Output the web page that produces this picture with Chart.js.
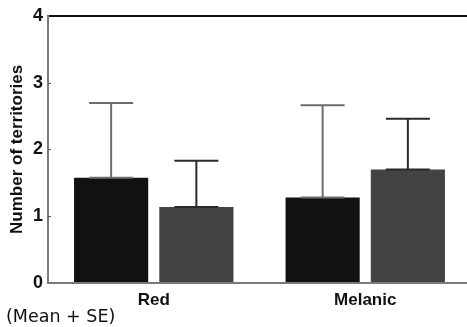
<!DOCTYPE html>
<html>
<head>
<meta charset="utf-8">
<script src="https://cdn.jsdelivr.net/npm/chart.js@4"></script>
<style>
  html, body { margin: 0; padding: 0; background: #fff; overflow: hidden; width: 467px; height: 327px; }
  #wrap { position: absolute; left: 0; top: 0; width: 471px; height: 327px; }
  #note { position: absolute; left: 6px; top: 306px; font-family: "Comic Sans MS", "DejaVu Sans", sans-serif; font-size: 17.5px; line-height: 20px; color: #111; white-space: nowrap; }
</style>
</head>
<body>
<div id="wrap"><canvas id="c"></canvas></div>
<div id="note">(Mean + SE)</div>
<script>
const categories = ['Red', 'Melanic'];
const meanA = [1.576, 1.279];
const seA = [1.12, 1.383];
const meanB = [1.139, 1.70];
const seB = [0.69, 0.758];
const yTicks = [0, 1, 2, 3, 4];

const errorBars = {
  id: 'errorBars',
  afterDatasetsDraw(chart) {
    const ctx = chart.ctx;
    const y = chart.scales.y;
    chart.data.datasets.forEach((ds, di) => {
      const meta = chart.getDatasetMeta(di);
      meta.data.forEach((bar, i) => {
        const m = ds.data[i];
        const e = ds.se[i];
        const x = bar.x;
        const y0 = y.getPixelForValue(m);
        const y1 = y.getPixelForValue(m + e);
        ctx.save();
        ctx.strokeStyle = ds.errColor;
        ctx.lineWidth = 2;
        ctx.beginPath();
        ctx.moveTo(x, y0); ctx.lineTo(x, y1);
        ctx.moveTo(x - 22, y1); ctx.lineTo(x + 22, y1);
        ctx.moveTo(x - 22, y0); ctx.lineTo(x + 22, y0);
        ctx.stroke();
        ctx.restore();
      });
    });
    // small inner tick marks on the y axis
    const left = chart.chartArea.left;
    ctx.save();
    ctx.strokeStyle = '#555';
    ctx.lineWidth = 1;
    ctx.beginPath();
    yTicks.forEach(v => {
      if (v === 0 || v === 4) return;
      const py = Math.round(y.getPixelForValue(v)) + 0.5;
      ctx.moveTo(left, py); ctx.lineTo(left + 3, py);
    });
    ctx.stroke();
    ctx.restore();
  }
};

new Chart(document.getElementById('c'), {
  type: 'bar',
  data: {
    labels: categories,
    datasets: [
      { data: meanA, se: seA, backgroundColor: '#111111', errColor: '#6e6e6e', barPercentage: 0.87, categoryPercentage: 0.806 },
      { data: meanB, se: seB, backgroundColor: '#434343', errColor: '#2a2a2a', barPercentage: 0.87, categoryPercentage: 0.806 }
    ]
  },
  options: {
    responsive: true,
    maintainAspectRatio: false,
    animation: false,
    layout: { padding: { top: 14, right: 0, bottom: 0, left: 0 } },
    plugins: { legend: { display: false }, tooltip: { enabled: false } },
    scales: {
      x: {
        grid: { display: false, drawTicks: false },
        border: { color: '#7a7a7a', width: 2 },
        ticks: { color: '#111', padding: 7, font: { family: 'Liberation Sans, Arial, sans-serif', size: 17, weight: 'bold' } },
        afterFit(s) { s.height = 44; }
      },
      y: {
        min: 0, max: 4,
        afterBuildTicks(s) { s.ticks = yTicks.map(v => ({ value: v })); },
        grid: {
          drawTicks: false,
          color: (c) => (c.tick && c.tick.value === 4) ? '#111' : 'rgba(0,0,0,0)',
          lineWidth: 2
        },
        border: { color: '#7a7a7a', width: 2 },
        ticks: { color: '#111', padding: 5, font: { family: 'Liberation Sans, Arial, sans-serif', size: 18, weight: 'bold' } },
        title: { display: true, text: 'Number of territories', color: '#111', padding: { top: 7, bottom: 0 }, font: { family: 'Liberation Sans, Arial, sans-serif', size: 17, weight: 'bold' } },
        afterFit(s) { s.width = 48; }
      }
    }
  },
  plugins: [errorBars]
});
</script>
</body>
</html>
